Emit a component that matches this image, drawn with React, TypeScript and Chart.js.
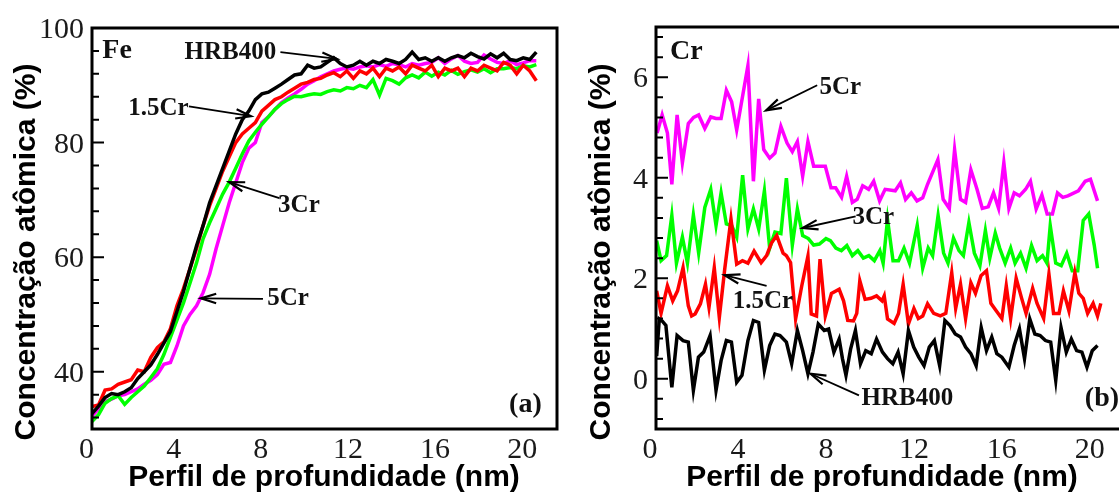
import React, { useEffect, useRef } from "react";
import { Chart, registerables } from "chart.js";
Chart.register(...registerables);

// ---------- Panel (a): Fe ----------
const depthA = [0.25,0.55,0.85,1.15,1.45,1.75,2.05,2.35,2.65,2.95,3.25,3.55,3.85,4.15,4.45,4.75,5.05,5.35,5.65,5.95,6.25,6.55,6.85,7.15,7.45,7.75,8.05,8.35,8.65,8.95,9.25,9.55,9.85,10.15,10.45,10.75,11.05,11.35,11.65,11.95,12.25,12.55,12.85,13.15,13.45,13.75,14.05,14.35,14.65,14.95,15.25,15.55,15.85,16.15,16.45,16.75,17.05,17.35,17.65,17.95,18.25,18.55,18.85,19.15,19.45,19.75,20.05,20.35,20.65];
const feHRB400 = [32.7,34.0,35.5,36.2,36.0,36.5,37.2,38.8,40.0,41.2,43.0,45.0,47.0,50.5,54.0,58.0,62.0,65.5,69.5,72.5,75.5,78.5,81.5,84.0,85.5,87.5,88.5,88.8,89.5,90.2,91.0,91.8,92.0,93.5,93.0,93.2,94.0,94.8,93.8,93.2,93.5,94.2,93.5,94.2,93.8,94.5,94.2,93.8,94.5,95.8,94.5,94.8,94.2,94.8,94.2,94.8,95.2,94.8,95.6,95.0,94.6,95.5,94.8,95.6,94.5,94.3,94.8,94.5,95.8];
const fe15Cr = [33.9,34.2,36.8,37.0,37.8,38.2,38.6,40.3,40.0,42.5,44.2,45.2,47.5,51.5,54.5,58.0,61.5,65.5,69.0,72.0,75.0,77.5,80.0,81.5,82.5,83.5,85.5,86.5,87.5,88.0,88.8,89.5,90.2,90.5,91.0,91.2,91.8,92.2,91.5,92.5,91.2,92.5,92.0,93.0,91.5,93.0,92.5,93.2,92.0,93.5,93.0,92.5,93.5,91.5,93.0,92.5,93.0,91.5,93.0,92.5,93.5,93.0,92.5,94.0,93.5,92.0,93.5,92.5,90.8];
const fe3Cr = [31.3,32.5,34.5,35.3,35.8,34.3,35.5,36.5,37.5,39.0,40.5,43.0,46.0,49.0,52.0,55.5,59.0,63.2,66.0,68.5,71.0,73.1,75.5,78.0,80.3,81.8,83.2,84.5,85.8,86.8,87.5,88.1,88.0,88.3,88.5,88.4,88.9,89.2,89.0,89.6,89.4,90.0,89.6,91.0,88.3,91.2,90.8,90.2,91.3,91.8,91.3,92.3,91.6,92.3,91.8,92.6,91.9,92.4,92.7,92.3,92.9,92.2,92.9,92.9,93.1,92.9,93.4,93.2,93.6];
const fe5Cr = [32.2,33.5,34.8,35.2,35.8,36.0,36.5,37.0,37.8,38.5,39.5,41.3,41.6,44.5,48.0,50.0,51.5,53.8,57.0,61.5,65.5,69.5,73.0,76.5,79.0,80.0,83.5,84.5,85.8,87.0,87.8,88.5,89.3,90.2,90.8,91.5,92.0,92.5,92.8,93.0,92.8,93.2,93.4,93.2,93.6,93.3,93.8,93.6,93.2,93.8,93.5,93.8,94.0,94.8,93.8,94.6,95.2,94.2,93.8,94.0,95.3,94.6,94.0,93.8,94.3,93.6,93.9,94.3,94.3];

// ---------- Panel (b): Cr ----------
const crHRB400X = [0.30,0.42,0.55,0.72,0.99,1.23,1.50,1.74,1.97,2.20,2.44,2.73,3.00,3.23,3.47,3.70,3.94,4.18,4.45,4.70,4.94,5.20,5.44,5.68,5.91,6.20,6.44,6.70,6.94,7.18,7.41,7.65,7.92,8.12,8.36,8.60,8.75,8.91,9.12,9.34,9.57,9.81,10.06,10.30,10.57,10.80,11.04,11.28,11.51,11.75,11.99,12.22,12.46,12.70,12.93,13.17,13.41,13.64,13.88,14.12,14.35,14.59,14.83,15.06,15.30,15.54,15.77,16.00,16.32,16.56,16.80,17.03,17.27,17.50,17.74,17.98,18.22,18.45,18.69,18.93,19.16,19.40,19.64,19.87,20.11,20.35];
const crHRB400Y = [0.45,1.19,1.15,1.06,-0.17,0.86,0.76,0.73,-0.23,0.43,0.53,0.86,-0.23,0.36,0.76,0.73,-0.07,0.07,0.76,1.16,1.12,0.17,0.66,0.89,0.86,0.73,0.30,0.96,0.56,0.10,0.53,1.09,0.96,0.99,0.53,0.79,0.40,0.07,0.59,0.96,0.30,0.56,0.50,0.79,0.53,0.40,0.30,0.53,0.10,0.96,0.63,0.43,0.26,0.63,0.76,0.26,1.16,1.06,0.89,0.83,0.63,0.50,0.26,1.02,0.56,0.83,0.50,0.43,0.23,0.66,0.99,0.40,1.19,0.89,0.86,0.76,0.73,-0.03,1.02,0.53,0.79,0.56,0.53,0.23,0.56,0.66];

const cr15CrX = [0.30,0.50,0.79,1.03,1.25,1.50,1.74,1.89,2.05,2.29,2.52,2.68,2.92,3.15,3.40,3.68,3.94,4.20,4.45,4.73,5.05,5.30,5.52,5.76,6.05,6.20,6.39,6.62,6.90,7.18,7.33,7.57,7.73,7.97,8.25,8.60,8.80,8.99,9.25,9.40,9.54,9.78,10.05,10.30,10.55,10.65,10.80,11.10,11.30,11.51,11.75,12.00,12.20,12.40,12.62,12.90,13.20,13.45,13.72,13.90,14.12,14.35,14.59,14.80,15.05,15.30,15.50,15.75,16.00,16.20,16.40,16.65,16.90,17.10,17.40,17.60,17.90,18.14,18.35,18.60,18.80,19.05,19.32,19.50,19.70,19.90,20.15,20.35,20.50];
const cr15CrY = [1.75,1.30,1.85,1.55,1.75,2.21,1.45,1.25,1.29,1.49,1.88,1.42,2.21,1.22,2.20,3.18,2.28,2.35,2.30,2.54,2.31,2.45,2.70,2.85,2.50,2.45,2.31,1.19,1.85,2.44,1.29,1.25,2.38,1.25,1.70,1.78,1.55,1.16,1.15,1.30,1.95,1.58,1.60,1.65,1.55,1.65,1.19,1.10,1.30,1.88,1.09,1.40,1.20,1.25,1.49,1.30,1.25,1.30,2.11,1.40,1.88,1.20,1.91,1.70,2.05,2.15,1.50,1.35,1.20,1.85,1.20,2.00,1.60,1.30,1.80,1.50,1.20,2.08,1.30,1.30,1.75,1.35,2.11,1.70,1.60,1.30,1.50,1.25,1.50];

const cr3CrX = [0.30,0.50,0.75,0.99,1.20,1.47,1.70,1.97,2.21,2.49,2.76,3.00,3.23,3.47,3.71,3.94,4.21,4.45,4.70,4.94,5.20,5.44,5.68,5.95,6.20,6.47,6.70,6.94,7.20,7.44,7.70,8.00,8.20,8.45,8.70,8.95,9.20,9.45,9.70,9.95,10.20,10.45,10.60,10.80,11.05,11.30,11.55,11.80,12.15,12.40,12.65,12.85,13.10,13.35,13.55,13.80,14.05,14.25,14.50,14.75,15.00,15.25,15.45,15.70,15.90,16.15,16.40,16.60,16.85,17.10,17.35,17.60,17.85,18.05,18.20,18.45,18.70,18.95,19.20,19.45,19.70,19.95,20.20,20.35];
const cr3CrY = [2.75,2.35,2.45,3.25,2.30,2.82,2.30,3.26,2.50,3.41,3.77,3.05,3.70,3.08,3.05,2.82,4.05,2.98,3.38,2.98,3.74,2.60,2.92,2.89,3.99,2.66,3.38,2.85,2.79,2.66,2.68,2.79,2.75,2.60,2.55,2.65,2.45,2.55,2.40,2.45,2.35,2.55,2.30,3.17,2.35,2.35,2.60,2.30,3.05,2.20,2.60,2.45,3.25,2.50,2.30,2.80,2.55,2.45,3.11,2.50,2.25,2.95,2.40,2.90,2.60,2.30,2.60,2.30,2.50,2.20,2.65,2.35,2.45,2.30,3.05,2.30,2.25,2.50,2.15,2.15,3.15,3.28,2.66,2.20];

const cr5CrX = [0.32,0.55,0.79,0.99,1.23,1.47,1.74,1.98,2.21,2.49,2.76,3.00,3.23,3.47,3.71,3.94,4.45,4.70,4.94,5.17,5.44,5.68,5.95,6.23,6.47,6.70,6.94,7.18,7.44,7.97,8.23,8.44,8.71,8.94,9.20,9.42,9.67,9.94,10.17,10.44,10.69,11.15,11.39,11.62,11.88,12.14,12.40,12.62,13.09,13.33,13.61,13.85,14.12,14.35,14.59,14.87,15.11,15.38,15.62,15.85,16.09,16.32,16.56,16.80,17.08,17.30,17.56,17.82,18.06,18.30,18.53,18.77,19.00,19.48,19.79,20.03,20.35];
const cr5CrY = [4.89,5.25,4.89,3.87,5.25,4.30,5.08,5.20,5.25,4.98,5.21,5.18,5.18,5.74,5.51,4.95,6.23,3.93,5.57,4.56,4.39,4.49,5.02,4.69,4.52,4.72,4.03,4.72,4.23,4.23,3.80,3.80,3.61,4.03,3.51,3.57,3.84,3.77,3.93,3.54,3.77,3.74,3.90,3.57,3.70,3.54,3.60,3.87,4.36,3.57,3.39,4.56,3.57,3.51,4.16,3.77,3.39,3.42,3.70,3.39,4.30,3.39,3.70,3.64,3.77,3.93,3.38,3.66,3.28,3.28,3.70,3.61,3.64,3.74,3.93,3.97,3.54];

// ---------- Axis ticks ----------
const xTickLabels = [0, 4, 8, 12, 16, 20];
const yMajorA = [40, 60, 80, 100];
const yMinorA = [32, 36, 44, 48, 52, 56, 64, 68, 72, 76, 84, 88, 92, 96];
const yMajorB = [0, 2, 4, 6];
const yMinorB = [-0.8, -0.4, 0.4, 0.8, 1.2, 1.6, 2.4, 2.8, 3.2, 3.6, 4.4, 4.8, 5.2, 5.6, 6.4, 6.8];

const seriesNames = ["HRB400", "1.5Cr", "3Cr", "5Cr"];
const seriesColors = ["#000000", "#ff0000", "#00ff00", "#ff00ff"];

const xTitle = "Perfil de profundidade (nm)";
const yTitle = "Concentração atômica (%)";

type Note = { text: string; x: number; y: number; size?: number; arrow?: number[] };

const notesA: Note[] = [
  { text: "Fe", x: 1.4, y: 96.0, size: 28 },
  { text: "HRB400", x: 6.6, y: 95.8, arrow: [8.9, 95.8, 11.5, 94.6] },
  { text: "1.5Cr", x: 3.3, y: 86.0, arrow: [4.7, 86.3, 7.55, 84.6] },
  { text: "3Cr", x: 9.75, y: 69.0, arrow: [8.85, 70.3, 6.55, 73.1] },
  { text: "5Cr", x: 9.25, y: 52.7, arrow: [8.1, 52.7, 5.25, 52.8] },
  { text: "(a)", x: 20.15, y: 34.2, size: 28 },
];

const notesB: Note[] = [
  { text: "Cr", x: 1.65, y: 6.5, size: 28 },
  { text: "5Cr", x: 8.65, y: 5.8, arrow: [7.6, 5.84, 5.28, 5.34] },
  { text: "3Cr", x: 10.15, y: 3.2, arrow: [9.35, 3.23, 6.94, 3.0] },
  { text: "1.5Cr", x: 5.13, y: 1.53, arrow: [5.3, 1.85, 3.39, 2.06] },
  { text: "HRB400", x: 11.7, y: -0.4, arrow: [9.5, -0.33, 7.3, 0.1] },
  { text: "(b)", x: 20.55, y: -0.4, size: 28 },
];

function drawArrow(ctx: CanvasRenderingContext2D, x1: number, y1: number, x2: number, y2: number) {
  ctx.strokeStyle = "#000";
  ctx.lineWidth = 1.8;
  ctx.beginPath();
  ctx.moveTo(x1, y1);
  ctx.lineTo(x2, y2);
  ctx.stroke();
  const ang = Math.atan2(y2 - y1, x2 - x1);
  const L = 16, w = 0.3;
  ctx.lineWidth = 2.2;
  ctx.beginPath();
  ctx.moveTo(x2 - L * Math.cos(ang - w), y2 - L * Math.sin(ang - w));
  ctx.lineTo(x2, y2);
  ctx.lineTo(x2 - L * Math.cos(ang + w), y2 - L * Math.sin(ang + w));
  ctx.stroke();
}

const decorPlugin = {
  id: "decor",
  afterDraw(chart: any, _args: any, opts: any) {
    const ctx: CanvasRenderingContext2D = chart.ctx;
    const ca = chart.chartArea;
    const xs = chart.scales.x;
    const ys = chart.scales.y;
    ctx.save();
    // frame
    ctx.strokeStyle = "#000";
    ctx.lineWidth = 3;
    ctx.strokeRect(ca.left, ca.top, ca.right - ca.left, ca.bottom - ca.top);
    // inward ticks on the left axis
    ctx.lineWidth = 2;
    ctx.beginPath();
    for (const v of opts.minor) {
      const p = ys.getPixelForValue(v);
      ctx.moveTo(ca.left, p);
      ctx.lineTo(ca.left + 7, p);
    }
    for (const v of opts.major) {
      const p = ys.getPixelForValue(v);
      ctx.moveTo(ca.left, p);
      ctx.lineTo(ca.left + 12, p);
    }
    ctx.stroke();
    // tick labels
    ctx.fillStyle = "#1a1a1a";
    ctx.font = '30px "Liberation Serif"';
    ctx.textBaseline = "alphabetic";
    ctx.textAlign = "right";
    for (const v of opts.major) {
      ctx.fillText(String(v), ca.left - 8, ys.getPixelForValue(v) + 10);
    }
    ctx.textAlign = "center";
    for (const v of opts.xticks) {
      ctx.fillText(String(v), xs.getPixelForValue(v), ca.bottom + 29);
    }
    // axis titles
    ctx.fillStyle = "#000";
    ctx.font = 'bold 30px "Liberation Sans"';
    ctx.textAlign = "center";
    ctx.fillText(xTitle, opts.xTitleX, 486);
    ctx.save();
    ctx.translate(opts.yTitleX, 252);
    ctx.rotate(-Math.PI / 2);
    ctx.fillText(yTitle, 0, 0);
    ctx.restore();
    // annotations
    ctx.textBaseline = "middle";
    for (const n of opts.notes as Note[]) {
      ctx.fillStyle = "#111";
      ctx.font = `bold ${n.size ?? 25}px "Liberation Serif"`;
      ctx.textAlign = "center";
      ctx.fillText(n.text, xs.getPixelForValue(n.x), ys.getPixelForValue(n.y));
      if (n.arrow) {
        const [ax1, ay1, ax2, ay2] = n.arrow;
        drawArrow(ctx, xs.getPixelForValue(ax1), ys.getPixelForValue(ay1), xs.getPixelForValue(ax2), ys.getPixelForValue(ay2));
      }
    }
    ctx.restore();
  },
};

function makeChart(canvas: HTMLCanvasElement, datasets: any[], cfg: any) {
  return new Chart(canvas, {
    type: "line",
    data: { datasets },
    plugins: [decorPlugin],
    options: {
      animation: false,
      responsive: false,
      maintainAspectRatio: false,
      devicePixelRatio: 1,
      parsing: false,
      layout: { padding: cfg.padding },
      plugins: {
        legend: { display: false },
        tooltip: { enabled: false },
        decor: cfg.decor,
      } as any,
      elements: {
        point: { radius: 0 },
        line: { tension: 0, borderWidth: 3.5, borderJoinStyle: "miter" },
      },
      scales: {
        x: { type: "linear", min: cfg.xmin, max: cfg.xmax, display: false },
        y: { type: "linear", min: cfg.ymin, max: cfg.ymax, display: false },
      },
    },
  });
}

export default function App() {
  const refA = useRef<HTMLCanvasElement>(null);
  const refB = useRef<HTMLCanvasElement>(null);

  useEffect(() => {
    const feSeries = [feHRB400, fe15Cr, fe3Cr, fe5Cr];
    const dsA = feSeries.map((ys, k) => ({
      label: seriesNames[k],
      data: depthA.map((x, i) => ({ x, y: ys[i] })),
      borderColor: seriesColors[k],
      backgroundColor: seriesColors[k],
      fill: false,
    }));
    const crX = [crHRB400X, cr15CrX, cr3CrX, cr5CrX];
    const crY = [crHRB400Y, cr15CrY, cr3CrY, cr5CrY];
    const dsB = crX.map((xs, k) => ({
      label: seriesNames[k],
      data: xs.map((x, i) => ({ x, y: crY[k][i] })),
      borderColor: seriesColors[k],
      backgroundColor: seriesColors[k],
      fill: false,
    }));
    const a = makeChart(refA.current!, dsA, {
      padding: { left: 92, top: 28, right: 3, bottom: 64 },
      xmin: 0.25, xmax: 21.6, ymin: 30, ymax: 100,
      decor: { major: yMajorA, minor: yMinorA, xticks: xTickLabels, notes: notesA, xTitleX: 324, yTitleX: 35 },
    });
    const b = makeChart(refB.current!, dsB, {
      padding: { left: 96, top: 27, right: 15, bottom: 64 },
      xmin: 0.27, xmax: 21.6, ymin: -1, ymax: 7,
      decor: { major: yMajorB, minor: yMinorB, xticks: xTickLabels, notes: notesB, xTitleX: 322, yTitleX: 50 },
    });
    return () => {
      a.destroy();
      b.destroy();
    };
  }, []);

  return (
    <div style={{ position: "absolute", left: 0, top: 0, width: 1119, height: 493, overflow: "hidden", background: "#fff" }}>
      <div style={{ position: "absolute", left: 0, top: 0 }}>
        <canvas ref={refA} width={560} height={493} style={{ display: "block" }} />
      </div>
      <div style={{ position: "absolute", left: 560, top: 0 }}>
        <canvas ref={refB} width={580} height={493} style={{ display: "block" }} />
      </div>
    </div>
  );
}
